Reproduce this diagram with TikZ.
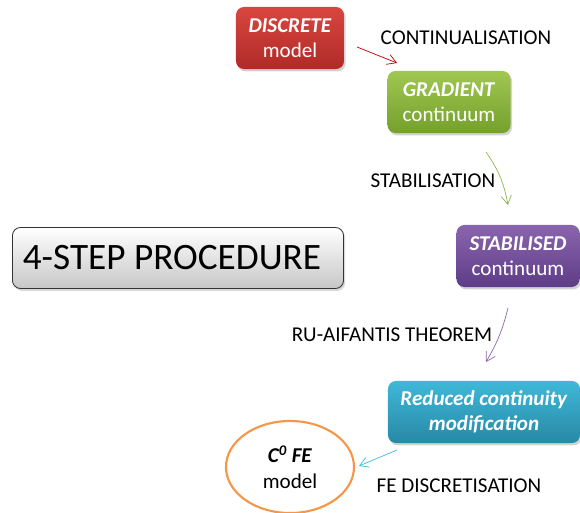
\documentclass[tikz,border=0pt]{standalone}
\usepackage{fontspec}
\setmainfont{Carlito}
\usetikzlibrary{positioning,shadows,shapes.geometric,arrows.meta}
\definecolor{redtop}{HTML}{D9463F}
\definecolor{redbot}{HTML}{B02A27}
\definecolor{greentop}{HTML}{A0C752}
\definecolor{greenbot}{HTML}{74A02C}
\definecolor{purptop}{HTML}{8A65AE}
\definecolor{purpbot}{HTML}{5E3D86}
\definecolor{tealtop}{HTML}{3FB8D8}
\definecolor{tealbot}{HTML}{2889A6}
\definecolor{orangeline}{HTML}{F79646}
\tikzset{
	stagebox/.style={rounded corners=0.2cm, text=white, align=center, font=\fontsize{15}{18}\selectfont,
		minimum height=1.55cm, drop shadow={shadow xshift=0.04cm, shadow yshift=-0.06cm, opacity=0.35}},
	steplabel/.style={font=\fontsize{15}{18}\selectfont, text=black},
	flow/.style={-{Straight Barb[length=2.2mm,width=2.6mm]}, line width=0.5pt}
}
\newcommand{\bfit}[1]{\textbf{\textit{#1}}}
\begin{document}
\begin{tikzpicture}[x=0.025cm,y=-0.025cm]
				\useasboundingbox (0,0) rectangle (580,513);

				% the four stages
				\node[stagebox, top color=redtop, bottom color=redbot, minimum width=2.7cm] (discrete) at (290,38) {\bfit{DISCRETE}\\model};
				\node[stagebox, top color=greentop, bottom color=greenbot, minimum width=3.075cm] (gradient) at (449,102) {\bfit{GRADIENT}\\continuum};
				\node[stagebox, top color=purptop, bottom color=purpbot, minimum width=3.075cm] (stabilised) at (518,256) {\bfit{STABILISED}\\continuum};
				\node[stagebox, top color=tealtop, bottom color=tealbot, minimum width=4.8cm] (reduced) at (484,412) {\bfit{Reduced continuity}\\\bfit{modification}};
				\node[ellipse, draw=orangeline, line width=1.5pt, fill=white, minimum width=3.2cm, minimum height=2.3cm, align=center, font=\fontsize{15}{18}\selectfont] (cfe) at (290,467) {\bfit{C\textsuperscript{0} FE}\\model};

				% title
				\node[rounded corners=0.2cm, draw=black!80, line width=0.6pt, top color=white, bottom color=black!22,
					minimum width=8.275cm, minimum height=1.525cm,
					drop shadow={shadow xshift=0.04cm, shadow yshift=-0.06cm, opacity=0.3}] (title) at (178,258) {};
				\node[font=\fontsize{26.5}{30}\selectfont] (titletext) at (172,258) {4-STEP PROCEDURE};

				% operations
				\node[steplabel] (contlab) at (466,38) {CONTINUALISATION};
				\node[steplabel] (stablab) at (433,181) {STABILISATION};
				\node[steplabel] (ruthm) at (392,335) {RU-AIFANTIS THEOREM};
				\node[steplabel] (fedisc) at (459,486) {FE DISCRETISATION};

				\coordinate (r0) at (357,47);
				\coordinate (r1) at (397,63);
				\coordinate (g0) at (486,152);
				\coordinate (g1) at (508,205);
				\coordinate (p0) at (508,308);
				\coordinate (p1) at (486,362);
				\coordinate (t0) at (397,450);
				\coordinate (t1) at (359,466);

				\draw[flow, red!75!black] (r0) -- (r1);
				\draw[flow, greentop!90!black] (g0) to[bend left=12] (g1);
				\draw[flow, purptop] (p0) to[bend left=8] (p1);
				\draw[flow, tealtop] (t0) -- (t1);

				\end{tikzpicture}
\end{document}
